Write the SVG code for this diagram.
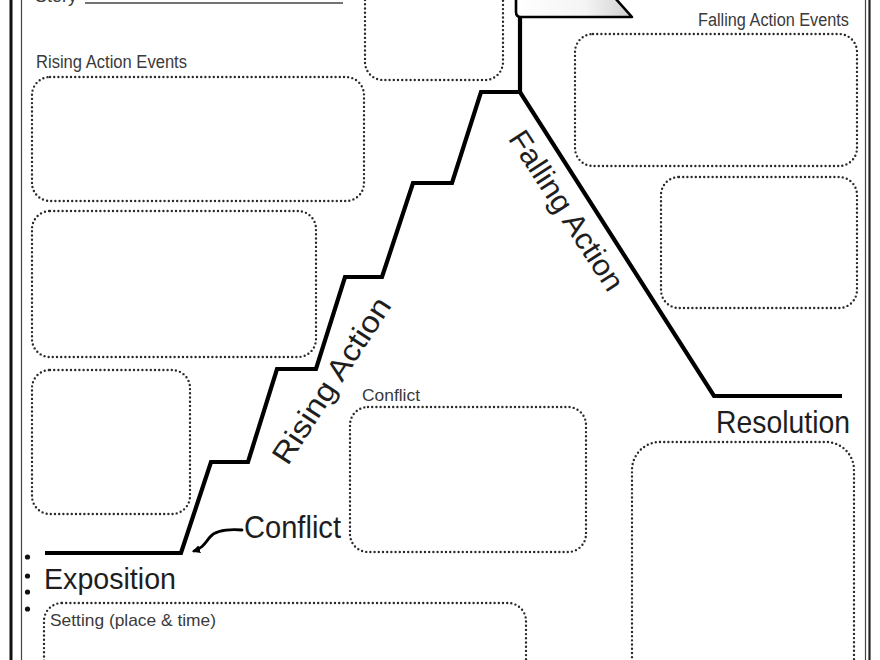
<svg xmlns="http://www.w3.org/2000/svg" width="880" height="660" viewBox="0 0 880 660">
<style>
.box{fill:none;stroke:#2a2a2a;stroke-width:2.4;stroke-linecap:round;stroke-dasharray:0 4.2}
.lbl{font-family:"Liberation Sans",Arial,sans-serif;fill:#3a3a3a}
.big{font-family:"Liberation Sans",Arial,sans-serif;fill:#1e1e1e}
.line{fill:none;stroke:#000;stroke-width:4.2;stroke-linejoin:miter}
</style>
<defs>
<linearGradient id="flagfill" x1="0" y1="0" x2="1" y2="0">
<stop offset="0" stop-color="#ffffff"/>
<stop offset="0.6" stop-color="#f4f4f4"/>
<stop offset="1" stop-color="#cfcfcf"/>
</linearGradient>
<marker id="ah" markerWidth="8" markerHeight="8" refX="6" refY="4" orient="auto" markerUnits="userSpaceOnUse">
<path d="M0,0 L8,4 L0,8 Z" fill="#000"/>
</marker>
</defs>
<rect width="880" height="660" fill="#fff"/>
<g id="border">
<line x1="11" y1="0" x2="11" y2="660" stroke="#111" stroke-width="3"/>
<line x1="21.5" y1="0" x2="21.5" y2="660" stroke="#444" stroke-width="1.2"/>
<line x1="865.5" y1="0" x2="865.5" y2="660" stroke="#444" stroke-width="1.2"/>
<line x1="869.5" y1="0" x2="869.5" y2="660" stroke="#222" stroke-width="2.2"/>
</g>
<g id="story">
<text class="lbl" x="35" y="2" font-size="18" textLength="42" lengthAdjust="spacingAndGlyphs">Story</text>
<line x1="85" y1="3" x2="343" y2="3" stroke="#444" stroke-width="1.5"/>
</g>
<g id="connectors">
<path class="line" d="M45,553 H181 L211,462 H248 L277,369 H316 L345,277 H382 L413,183 H452 L481,92 H520 L714,396 H842"/>
<line x1="520" y1="16" x2="520" y2="92" stroke="#000" stroke-width="4.2"/>
<path d="M516,-2 V12 Q516,17 521,17 H632 L615,-2 Z" fill="url(#flagfill)" stroke="#000" stroke-width="2.6" stroke-linejoin="round"/>
<path d="M242,530 C228,529 216,530 210,537 C205,543 203,548 194,551" fill="none" stroke="#000" stroke-width="2.8" stroke-linecap="round" marker-end="url(#ah)"/>
</g>
<g id="top-box"><rect class="box" x="365" y="-30" width="138" height="110" rx="18"/></g>
<g id="rising-events">
<text class="lbl" x="36" y="68" font-size="18" textLength="151" lengthAdjust="spacingAndGlyphs">Rising Action Events</text>
<rect class="box" x="32" y="77" width="332" height="124" rx="18"/>
</g>
<g id="rising-box-2"><rect class="box" x="32" y="211" width="284" height="146" rx="18"/></g>
<g id="rising-box-3"><rect class="box" x="32" y="370" width="158" height="144" rx="18"/></g>
<g id="falling-events">
<text class="lbl" x="698" y="26" font-size="18" textLength="151" lengthAdjust="spacingAndGlyphs">Falling Action Events</text>
<rect class="box" x="575" y="34" width="282" height="132" rx="18"/>
</g>
<g id="falling-box-2"><rect class="box" x="661" y="177" width="196" height="131" rx="18"/></g>
<g id="conflict-box">
<text class="lbl" x="362" y="401" font-size="17" textLength="58" lengthAdjust="spacingAndGlyphs">Conflict</text>
<rect class="box" x="350" y="407" width="236" height="145" rx="18"/>
</g>
<g id="resolution-box"><rect class="box" x="632" y="442" width="222" height="260" rx="28"/></g>
<g id="exposition-box">
<rect class="box" x="44" y="603" width="482" height="120" rx="18"/>
<text class="lbl" x="50" y="626" font-size="17" textLength="166" lengthAdjust="spacingAndGlyphs">Setting (place &amp; time)</text>
<text class="lbl" x="50" y="673" font-size="17" textLength="86" lengthAdjust="spacingAndGlyphs">Characters</text>
</g>
<g id="bullets" fill="#111">
<circle cx="27.5" cy="557" r="2.6"/>
<circle cx="27.5" cy="576" r="2.6"/>
<circle cx="27.5" cy="592" r="2.6"/>
<circle cx="27.5" cy="609" r="2.6"/>
</g>
<g id="labels">
<text class="big" x="244" y="538" font-size="32" textLength="97" lengthAdjust="spacingAndGlyphs">Conflict</text>
<text class="big" x="44" y="589" font-size="29" textLength="132" lengthAdjust="spacingAndGlyphs">Exposition</text>
<text class="big" x="716" y="433" font-size="32" textLength="134" lengthAdjust="spacingAndGlyphs">Resolution</text>
<text class="big" x="0" y="0" font-size="30" text-anchor="middle" textLength="192" lengthAdjust="spacingAndGlyphs" transform="translate(340,386) rotate(-57)">Rising Action</text>
<text class="big" x="0" y="0" font-size="30" text-anchor="middle" textLength="185" lengthAdjust="spacingAndGlyphs" transform="translate(558,216) rotate(57)">Falling Action</text>
</g>
</svg>
